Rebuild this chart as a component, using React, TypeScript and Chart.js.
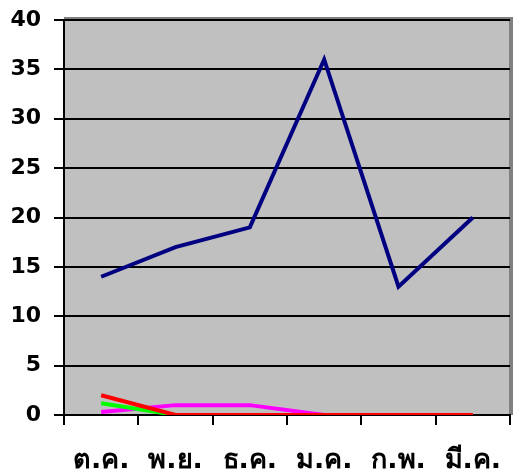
import React, { useEffect, useRef } from "react";
import { Chart, registerables } from "chart.js";
Chart.register(...registerables);

const categories = ["ต.ค.", "พ.ย.", "ธ.ค.", "ม.ค.", "ก.พ.", "มี.ค."];
const navySeries = [14, 17, 19, 36, 13, 20];
const magentaSeries = [0.3, 1, 1, 0, 0, 0];
const greenSeries = [1.2, 0, 0, 0, 0, 0];
const redSeries = [2, 0, 0, 0, 0, 0];
const yMin = 0;
const yMax = 40;
const yStep = 5;

const plotBg = {
  id: "plotBg",
  beforeDraw(chart: any) {
    const { ctx, chartArea: a } = chart;
    ctx.save();
    ctx.fillStyle = "#C0C0C0";
    ctx.fillRect(a.left, a.top, a.right - a.left, a.bottom - a.top);
    ctx.fillStyle = "#808080";
    ctx.fillRect(a.left, a.top - 3, a.right - a.left + 3, 4);
    ctx.fillRect(a.right - 1, a.top - 3, 4, a.bottom - a.top + 3);
    ctx.restore();
  },
};

export default function App() {
  const ref = useRef<HTMLCanvasElement>(null);
  useEffect(() => {
    document.body.style.margin = "0";
    const ds = (data: number[], color: string) => ({
      data,
      borderColor: color,
      backgroundColor: color,
      borderWidth: 4,
      pointRadius: 0,
      tension: 0,
    });
    const chart = new Chart(ref.current!, {
      type: "line",
      data: {
        labels: categories,
        datasets: [
          ds(redSeries, "#FF0000"),
          ds(greenSeries, "#00FF00"),
          ds(magentaSeries, "#FF00FF"),
          ds(navySeries, "#000080"),
        ],
      },
      options: {
        animation: false,
        responsive: false,
        layout: { padding: { top: 20, right: 3, left: 0, bottom: 0 } },
        plugins: { legend: { display: false }, tooltip: { enabled: false } },
        scales: {
          x: {
            offset: true,
            grid: {
              offset: true,
              drawOnChartArea: false,
              color: "#000",
              lineWidth: 2,
              tickLength: 10,
            },
            border: { color: "#000", width: 2 },
            ticks: {
              color: "#000",
              font: { family: "DejaVu Sans", size: 27, weight: "bold" },
              padding: 20,
              maxRotation: 0,
              autoSkip: false,
            },
            afterFit(s: any) {
              s.height = 60;
              s.paddingLeft = 0;
              s.paddingRight = 0;
            },
          },
          y: {
            min: yMin,
            max: yMax,
            ticks: {
              stepSize: yStep,
              color: "#000",
              font: { family: "DejaVu Sans", size: 22, weight: "bold" },
              padding: 13,
            },
            grid: { color: "#000", lineWidth: 2, tickLength: 10 },
            border: { color: "#000", width: 2 },
            afterFit(s: any) {
              s.width = 64;
              s.paddingTop = 0;
              s.paddingBottom = 0;
            },
          },
        },
      },
      plugins: [plotBg],
    });
    return () => chart.destroy();
  }, []);
  return (
    <div style={{ width: 513, height: 475, background: "#fff" }}>
      <canvas ref={ref} width={513} height={475} />
    </div>
  );
}
